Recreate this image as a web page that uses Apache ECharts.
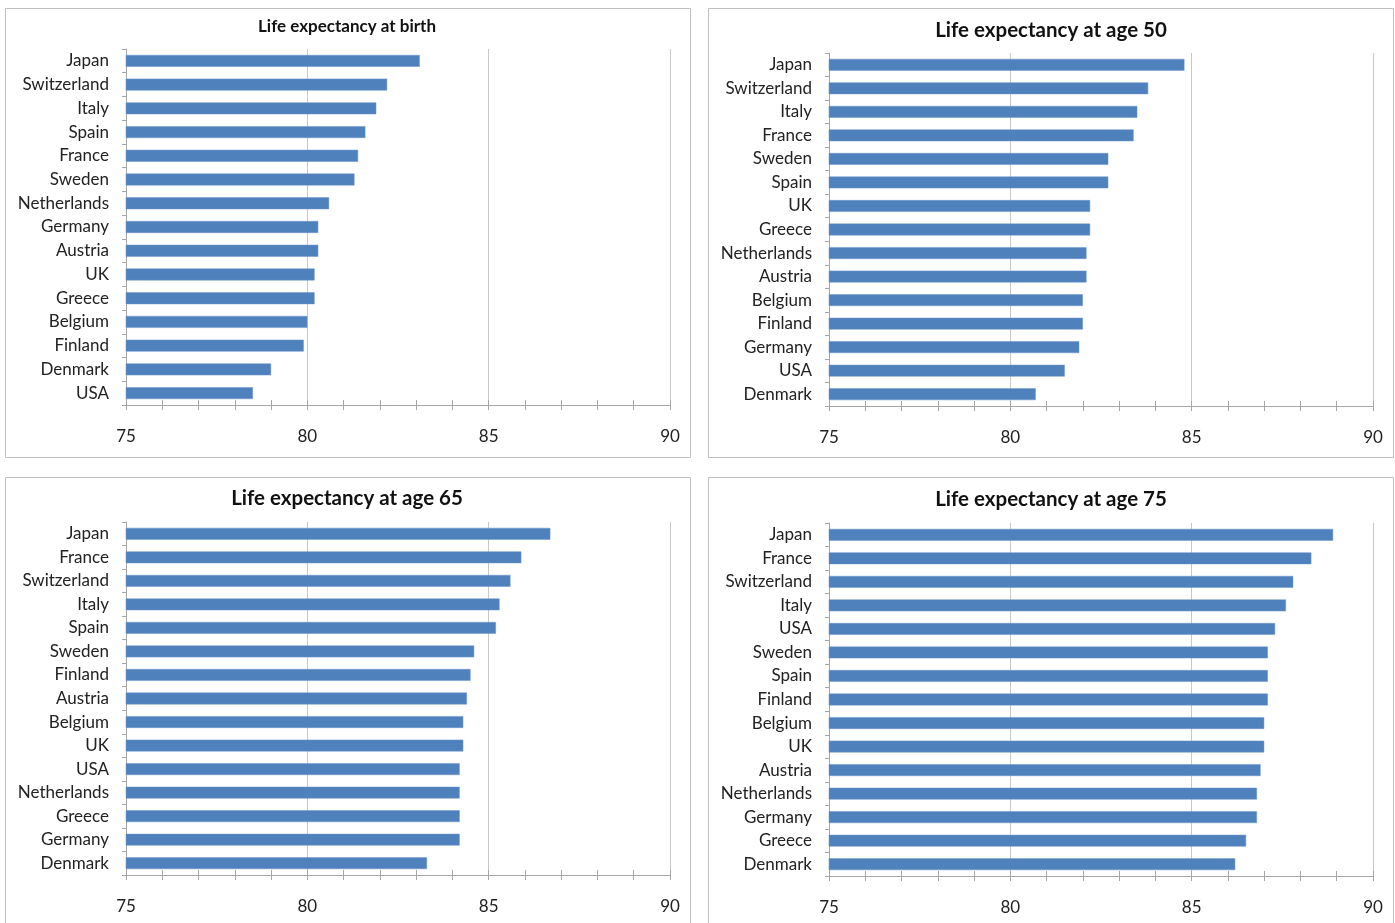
<!DOCTYPE html>
<html>
<head>
<meta charset="utf-8">
<script src="https://cdn.jsdelivr.net/npm/echarts@6/dist/echarts.min.js"></script>
<style>
html,body{margin:0;padding:0;background:#fff;}
#c{width:1395px;height:923px;}
</style>
</head>
<body>
<div id="c"></div>
<script>
// ---- data (top to bottom as shown) ----
const titles = ["Life expectancy at birth", "Life expectancy at age 50", "Life expectancy at age 65", "Life expectancy at age 75"];

const birthCountries = ["Japan","Switzerland","Italy","Spain","France","Sweden","Netherlands","Germany","Austria","UK","Greece","Belgium","Finland","Denmark","USA"];
const birthValues    = [83.1, 82.2, 81.9, 81.6, 81.4, 81.3, 80.6, 80.3, 80.3, 80.2, 80.2, 80.0, 79.9, 79.0, 78.5];

const age50Countries = ["Japan","Switzerland","Italy","France","Sweden","Spain","UK","Greece","Netherlands","Austria","Belgium","Finland","Germany","USA","Denmark"];
const age50Values    = [84.8, 83.8, 83.5, 83.4, 82.7, 82.7, 82.2, 82.2, 82.1, 82.1, 82.0, 82.0, 81.9, 81.5, 80.7];

const age65Countries = ["Japan","France","Switzerland","Italy","Spain","Sweden","Finland","Austria","Belgium","UK","USA","Netherlands","Greece","Germany","Denmark"];
const age65Values    = [86.7, 85.9, 85.6, 85.3, 85.2, 84.6, 84.5, 84.4, 84.3, 84.3, 84.2, 84.2, 84.2, 84.2, 83.3];

const age75Countries = ["Japan","France","Switzerland","Italy","USA","Sweden","Spain","Finland","Belgium","UK","Austria","Netherlands","Germany","Greece","Denmark"];
const age75Values    = [88.9, 88.3, 87.8, 87.6, 87.3, 87.1, 87.1, 87.1, 87.0, 87.0, 86.9, 86.8, 86.8, 86.5, 86.2];

const xTicks = [75, 80, 85, 90];

// ---- layout ----
const panels = [
  {cats: birthCountries, vals: birthValues, box:[5,8,685,449], grid:{left:126, top:49, width:544, height:356}, title:{x:347, y:27, size:17}},
  {cats: age50Countries, vals: age50Values, box:[708,8,685,449], grid:{left:829, top:53, width:544, height:353}, title:{x:1051, y:30, size:20.5}},
  {cats: age65Countries, vals: age65Values, box:[5,477,685,452], grid:{left:126, top:522, width:544, height:353}, title:{x:347, y:498, size:20.5}},
  {cats: age75Countries, vals: age75Values, box:[708,477,685,452], grid:{left:829, top:523, width:544, height:353}, title:{x:1051, y:499, size:20.5}}
];

const FONT = 'Lato, "Open Sans", sans-serif';
const grid = [], xAxis = [], yAxis = [], series = [], graphic = [];

panels.forEach((p, i) => {
  graphic.push({type:'rect', shape:{x:p.box[0]+0.5, y:p.box[1]+0.5, width:p.box[2], height:p.box[3]},
    style:{fill:'#fff', stroke:'#bfbfbf', lineWidth:1}, z:-10});
  graphic.push({type:'text', x:p.title.x, y:p.title.y, z:10,
    style:{text:titles[i], x:0, y:0, align:'center', verticalAlign:'middle', textAlign:'center', textVerticalAlign:'middle',
      font:'bold ' + p.title.size + 'px ' + FONT, fill:'#111'}});
  grid.push({left:p.grid.left, top:p.grid.top, width:p.grid.width, height:p.grid.height, containLabel:false});
  // main value axis
  xAxis.push({type:'value', gridIndex:i, min:xTicks[0], max:xTicks[xTicks.length-1], interval:5,
    axisLine:{show:true, lineStyle:{color:'#a6a6a6'}},
    axisTick:{show:true, length:5, lineStyle:{color:'#a6a6a6'}},
    minorTick:{show:true, splitNumber:5, length:5, lineStyle:{color:'#a6a6a6'}},
    splitLine:{show:true, lineStyle:{color:'#c8c8c8', width:1}},
    axisLabel:{fontFamily:FONT, fontSize:17, color:'#222', margin:23}
  });
  yAxis.push({type:'category', gridIndex:i, data:p.cats, inverse:true,
    axisLine:{show:true, lineStyle:{color:'#a6a6a6'}},
    axisTick:{show:true, length:4, alignWithLabel:false, lineStyle:{color:'#a6a6a6'}},
    axisLabel:{fontFamily:FONT, fontSize:17, color:'#222', margin:17}
  });
  series.push({type:'bar', xAxisIndex:i, yAxisIndex:i, data:p.vals, barWidth:'50%',
    itemStyle:{color:'#4f81bd', borderColor:'#6a94c8', borderWidth:0.5}, silent:true});
});
// second set of axes to make the value-axis tick marks cross the line
panels.forEach((p, i) => {
  xAxis.push({type:'value', gridIndex:i, min:xTicks[0], max:xTicks[xTicks.length-1], interval:5, position:'bottom',
    axisLine:{show:false},
    axisTick:{show:true, inside:true, length:5, lineStyle:{color:'#a6a6a6'}},
    minorTick:{show:true, splitNumber:5, length:5, lineStyle:{color:'#a6a6a6'}},
    splitLine:{show:false}, axisLabel:{show:false}
  });
});

const chart = echarts.init(document.getElementById('c'), null, {renderer:'canvas'});
chart.setOption({
  backgroundColor:'#fff',
  animation:false,
  graphic, grid, xAxis, yAxis, series
});
</script>
</body>
</html>
